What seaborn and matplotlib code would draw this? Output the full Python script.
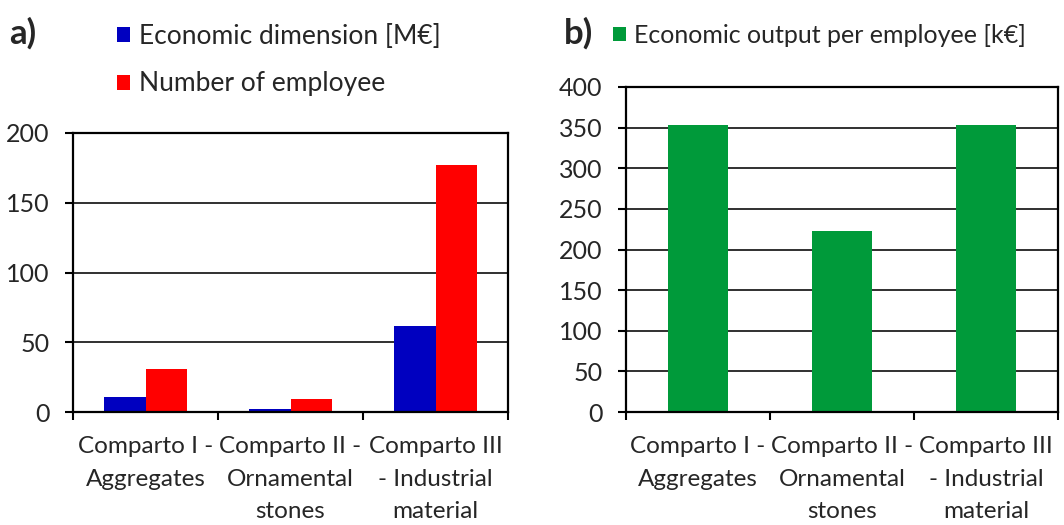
import matplotlib
matplotlib.use("Agg")
import matplotlib.pyplot as plt
import seaborn as sns
import pandas as pd

categories = ["Comparto I -\nAggregates", "Comparto II -\nOrnamental\nstones", "Comparto III\n- Industrial\nmaterial"]
series_a = ["Economic dimension [M\u20ac]", "Number of employee"]
econ_dimension = [11, 2, 62]
employees = [31, 9, 177]
output_per_employee = [353, 223, 353]
series_b = "Economic output per employee [k\u20ac]"

sns.set_theme(style="white")
plt.rcParams['font.family'] = ['Lato', 'DejaVu Sans']

BLUE = "#0000C0"
RED = "#FF0000"
GREEN = "#009A3A"

df_a = pd.DataFrame({
    "cat": categories * 2,
    "series": [series_a[0]] * 3 + [series_a[1]] * 3,
    "value": econ_dimension + employees,
})
df_b = pd.DataFrame({"cat": categories, "series": [series_b] * 3, "value": output_per_employee})

fig = plt.figure(figsize=(10.64, 5.25), dpi=100)
W, H = 1064, 525
def ax_rect(x0, x1, y0, y1):
    return [x0 / W, (H - y1) / H, (x1 - x0) / W, (y1 - y0) / H]

axA = fig.add_axes(ax_rect(73, 508, 133, 412))
axB = fig.add_axes(ax_rect(626, 1058, 87, 412))

sns.barplot(data=df_a, x="cat", y="value", hue="series", palette=[BLUE, RED],
            width=0.57, ax=axA, saturation=1, linewidth=0)
sns.barplot(data=df_b, x="cat", y="value", hue="series", palette=[GREEN],
            width=0.41, ax=axB, saturation=1, linewidth=0)

for ax, ymax, step in [(axA, 200, 50), (axB, 400, 50)]:
    ax.set_xlim(-0.5, 2.5)
    ax.set_ylim(0, ymax)
    ax.set_yticks(range(0, ymax + 1, step))
    ax.set_xlabel("")
    ax.set_ylabel("")
    ax.yaxis.grid(True, color="#303030", linewidth=1.4)
    ax.set_axisbelow(True)
    for s in ax.spines.values():
        s.set_visible(True)
        s.set_color("black")
        s.set_linewidth(1.6)
    ax.set_xticks([-0.5, 0.5, 1.5, 2.5], minor=True)
    ax.tick_params(axis="x", which="major", length=0, pad=17, labelsize=17.5)
    ax.tick_params(axis="x", which="minor", length=6, width=1.5, color="black", direction="out", bottom=True)
    ax.tick_params(axis="y", length=6, width=1.5, color="black", direction="out", left=True, labelsize=18, pad=11)
    for lab in ax.get_xticklabels():
        lab.set_linespacing(1.7)
        lab.set_va("top")

sns.move_legend(axA, loc="upper left", bbox_to_anchor=(117 / W, 1 - 24 / H),
                bbox_transform=fig.transFigure, frameon=False, title=None,
                fontsize=19, handlelength=0.5, handleheight=0.5, handletextpad=0.35,
                labelspacing=0.85, borderpad=0, borderaxespad=0)
sns.move_legend(axB, loc="upper left", bbox_to_anchor=(613 / W, 1 - 24 / H),
                bbox_transform=fig.transFigure, frameon=False, title=None,
                fontsize=18, handlelength=0.5, handleheight=0.5, handletextpad=0.35,
                borderpad=0, borderaxespad=0)

fig.text(9 / W, 1 - 33 / H, "a)", fontsize=25, fontweight="bold", va="center", ha="left")
fig.text(564 / W, 1 - 33 / H, "b)", fontsize=25, fontweight="bold", va="center", ha="left")

fig.savefig("out.png", dpi=100, facecolor="white")
